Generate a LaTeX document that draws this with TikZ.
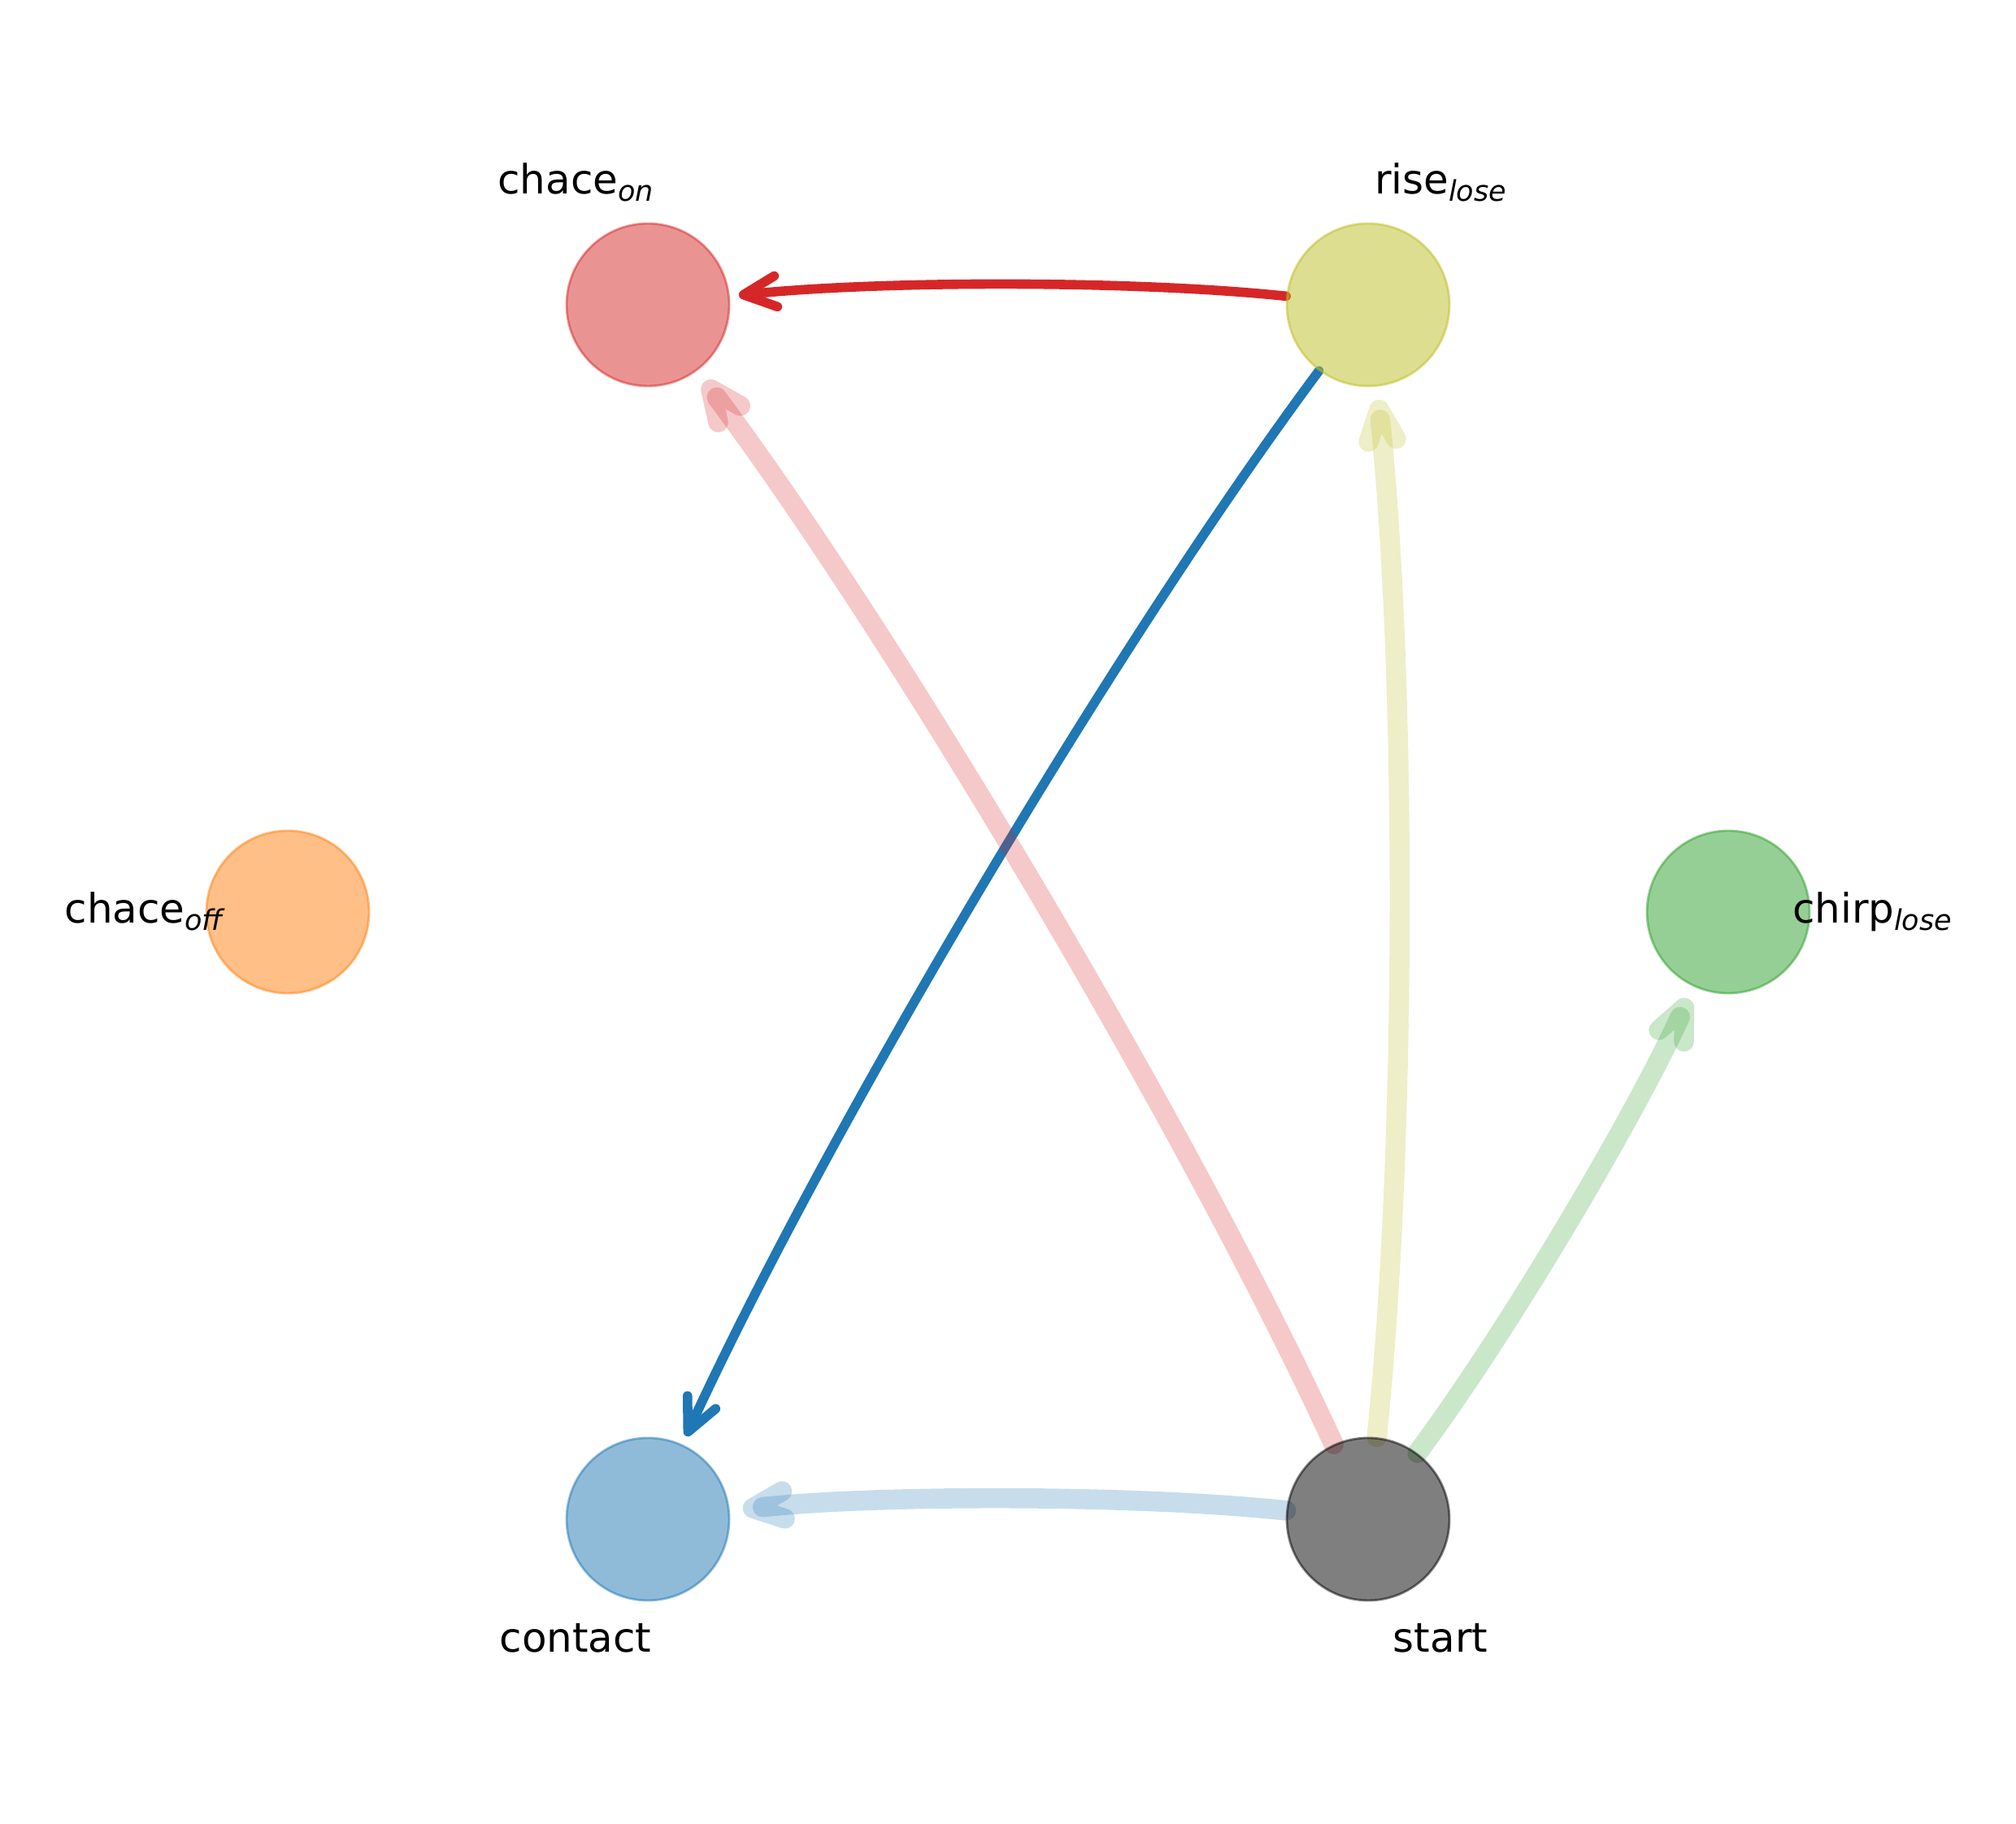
\documentclass[tikz,border=0pt]{standalone}
\usepackage{fontspec}
\setmainfont{DejaVu Sans}
\usetikzlibrary{arrows.meta,backgrounds}
\definecolor{tabred}{HTML}{D62728}
\definecolor{tabblue}{HTML}{1F77B4}
\definecolor{taborange}{HTML}{FF7F0E}
\definecolor{tabgreen}{HTML}{2CA02C}
\definecolor{tabolive}{HTML}{BCBD22}
\def\lowsub#1{\raisebox{-2.3pt}{\fontsize{9.95}{12}\selectfont\itshape #1}}
\tikzset{
	state/.style={circle, minimum size=2cm, inner sep=0pt, line width=0.8pt, opacity=0.5, draw=#1, fill=#1},
	lbl/.style={anchor=base, inner sep=0pt, font=\fontsize{14.2}{17}\selectfont},
	hard/.style={draw=#1, line width=3.3pt, line cap=round, -{Straight Barb[length=4mm, width=3.8mm, round]}, shorten >=1.1mm},
	soft/.style={draw=#1, draw opacity=0.25, line width=7pt, line cap=round, -{Straight Barb[length=3.8mm, width=3.4mm, round]}, shorten >=1.6mm},
	arc/.style={bend right=6, looseness=0.7}
}

\begin{document}
\begin{tikzpicture}
		%%%%% START %%%%%
		\useasboundingbox (0, 0) rectangle (24.8, 22.44);
		
		\node[state=tabred] (chaceon) at (7.97, 18.69) {};
		\node[state=tabolive] (riselose) at (16.83, 18.69) {};
		\node[state=taborange] (chaceoff) at (3.54, 11.22) {};
		\node[state=tabgreen] (chirplose) at (21.26, 11.22) {};
		\node[state=tabblue] (contact) at (7.97, 3.75) {};
		\node[state=black] (start) at (16.83, 3.75) {};
		
		\node[lbl] (chaceonlbl) at (7.08, 20.05) {chace\lowsub{on}};
		\node[lbl] (riseloselbl) at (17.72, 20.05) {rise\lowsub{lose}};
		\node[lbl] (chaceofflbl) at (1.77, 11.08) {chace\lowsub{off}};
		\node[lbl] (chirploselbl) at (23.03, 11.08) {chirp\lowsub{lose}};
		\node[lbl] (contactlbl) at (7.08, 2.11) {contact};
		\node[lbl] (startlbl) at (17.72, 2.11) {start};
		
		\begin{scope}[on background layer]
			\draw[hard=tabred] (riselose) to[arc] (chaceon);
			\draw[hard=tabblue] (riselose) to[arc] (contact);
			\draw[soft=tabred] (start) to[arc] (chaceon);
			\draw[soft=tabolive] (start) to[arc] (riselose);
			\draw[soft=tabgreen] (start) to[arc] (chirplose);
			\draw[soft=tabblue] (start) to[arc] (contact);
		\end{scope}
		%%%%% END %%%%%
	\end{tikzpicture}
\end{document}
